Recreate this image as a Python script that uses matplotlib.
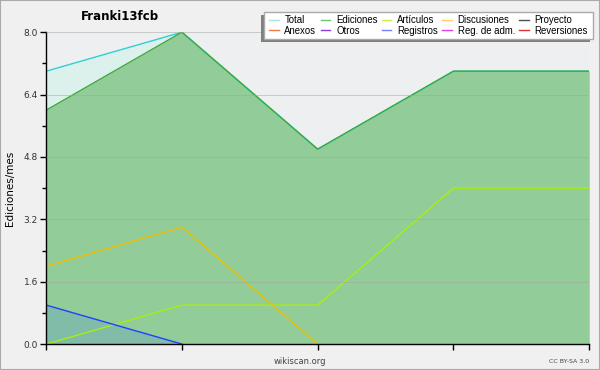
import numpy as np
import matplotlib.pyplot as plt
from matplotlib.lines import Line2D
from matplotlib.patches import Rectangle

meses = [0, 1, 2, 3, 4]
total = [7, 8, 5, 7, 7]
ediciones = [6, 8, 5, 7, 7]
articulos = [0, 1, 1, 4, 4]
discusiones = [2, 3, 0, 0, 0]
registros = [1, 0, 0, 0, 0]

leyenda = [("Total", "#a8e4e0"), ("Anexos", "#f07840"),
           ("Ediciones", "#6cc46c"), ("Otros", "#8a3ee0"),
           ("Artículos", "#c8f048"), ("Registros", "#7080ff"),
           ("Discusiones", "#ffd060"), ("Reg. de adm.", "#e040e0"),
           ("Proyecto", "#505050"), ("Reversiones", "#e03030")]

W, H = 600, 370
fig = plt.figure(figsize=(6, 3.7), dpi=100, facecolor="#f0f0f0")
fig.patches.append(Rectangle((0, 0), 1, 1, transform=fig.transFigure,
                             fill=False, edgecolor="#aaaaaa", lw=1.5))
ax = fig.add_axes([0.077, 0.070, 0.905, 0.843])
ax.set_facecolor("#eeeff1")

ax.fill_between(meses, total, color="#dcf1ec", lw=0)
ax.plot(meses, total, color="#30d0d0", lw=1)
ax.fill_between(meses, ediciones, color="#92cc98", lw=0)
ax.plot(meses, ediciones, color="#3caa3c", lw=1)
ax.fill_between(meses, registros, color="#80bca8", lw=0)
ax.plot(meses, articulos, color="#a8ee10", lw=1)
ax.plot(meses[:3], discusiones[:3], color="#f0c000", lw=1)
ax.plot(meses[:2], registros[:2], color="#2040ff", lw=1)

ax.set_xlim(0, 4)
ax.set_ylim(0, 8)
ax.set_yticks(np.arange(0, 8.01, 1.6))
ax.set_yticks(np.arange(0, 8.01, 0.8), minor=True)
ax.set_yticklabels(["%.1f" % v for v in np.arange(0, 8.01, 1.6)],
                   fontsize=6.5, color="#333333")
ax.set_xticks(meses)
ax.set_xticklabels([])
ax.grid(axis="y", which="major", color="#a0a8a0", lw=0.6, alpha=0.6)
ax.set_axisbelow(False)
ax.tick_params(axis="both", which="major", length=4, width=1, pad=2)
ax.tick_params(axis="y", which="minor", length=3, width=1)
for s in ["top", "right"]:
    ax.spines[s].set_visible(False)
ax.spines["left"].set_linewidth(1)
ax.spines["bottom"].set_linewidth(1)
ax.set_ylabel("Ediciones/mes", fontsize=7.5, labelpad=6)

fig.text(0.2, 0.955, "Franki13fcb", fontsize=8.5, fontweight="bold",
         ha="center", va="center")
fig.text(0.5, 0.022, "wikiscan.org", fontsize=6, color="#444444",
         ha="center", va="center")
fig.text(0.982, 0.022, "CC BY-SA 3.0", fontsize=4.5, color="#444444",
         ha="right", va="center")

# caja de la leyenda con sombra abajo a la izquierda
bx0, bx1, by0, by1 = 264, 593, 12, 39
fig.patches.append(Rectangle(((bx0 - 3) / W, 1 - (by1 + 3) / H),
                             (bx1 - bx0) / W, (by1 - by0) / H,
                             transform=fig.transFigure, color="#808080", lw=0))
fig.patches.append(Rectangle((bx0 / W, 1 - by1 / H),
                             (bx1 - bx0) / W, (by1 - by0) / H,
                             transform=fig.transFigure, facecolor="white",
                             edgecolor="#aaaaaa", lw=1))

handles = [Line2D([], [], color=c, lw=1) for _, c in leyenda]
labels = [n for n, _ in leyenda]
leg = fig.legend(handles, labels, ncol=5, loc="center",
                 bbox_to_anchor=((bx0 + bx1) / 2 / W, 1 - (by0 + by1) / 2 / H),
                 prop={"family": "Liberation Sans", "size": 6.9},
                 handlelength=1.0, handletextpad=0.6,
                 columnspacing=0.45, labelspacing=0.05, borderpad=0.0,
                 frameon=False)

fig.savefig("out.png", dpi=100, facecolor=fig.get_facecolor())
